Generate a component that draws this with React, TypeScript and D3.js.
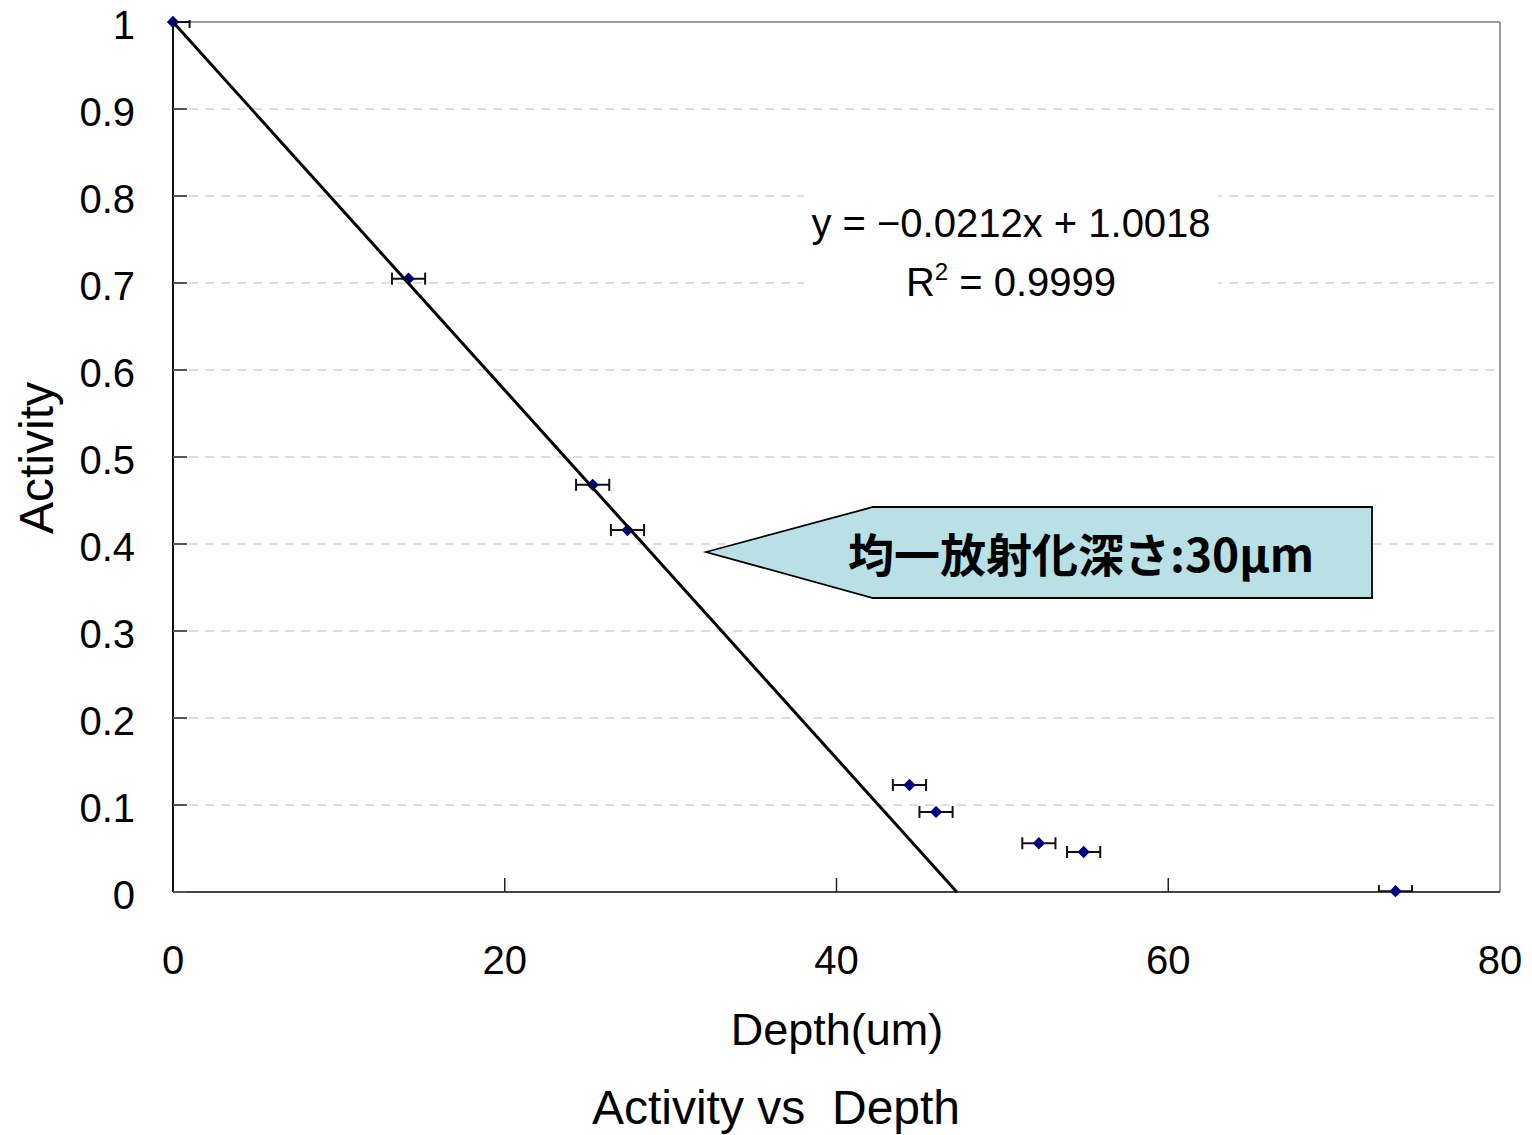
import React from 'react';
import * as d3 from 'd3';

// measured points (depth in um, relative activity)
const depth = [0, 14.2, 25.3, 27.4, 44.4, 46.0, 52.2, 54.9, 73.7];
const activity = [1.0, 0.705, 0.468, 0.416, 0.123, 0.092, 0.056, 0.046, 0.001];
const depthErr = [1, 1, 1, 1, 1, 1, 1, 1, 1];

// linear fit shown on the chart
const slope = -0.0212;
const intercept = 1.0018;

const xTicks = [0, 20, 40, 60, 80];
const yTicks = [0, 0.1, 0.2, 0.3, 0.4, 0.5, 0.6, 0.7, 0.8, 0.9, 1];

const W = 1532;
const H = 1135;
const left = 173, right = 1500, top = 22, bottom = 892;
const font = 'Arial, "Liberation Sans", sans-serif';

function App() {
  const x = d3.scaleLinear().domain([0, 80]).range([left, right]);
  const y = d3.scaleLinear().domain([0, 1]).range([bottom, top]);

  const x0 = -intercept / slope;
  const fitLine = d3.line<number>()
    .x(d => x(d))
    .y(d => y(Math.min(1, slope * d + intercept)));

  const pts = depth.map((d, i) => ({ d, a: activity[i], e: depthErr[i] }));
  // square turned 45deg, like Excel's diamond marker
  const diamond = d3.symbol().type(d3.symbolSquare).size(76)();

  const fmt = (t: number) => String(+t.toFixed(1));

  return (
    <svg width={W} height={H} style={{ position: 'absolute', left: 0, top: 0, background: '#fff' }}>
      <defs>
        <clipPath id="plot">
          <rect x={left} y={top - 2} width={right - left} height={bottom - top + 2} />
        </clipPath>
      </defs>

      {/* grid */}
      {yTicks.filter(t => t > 0 && t < 1).map(t => (
        <line key={'g' + t} x1={left} x2={right} y1={y(t)} y2={y(t)}
          stroke="#d4d4d4" strokeWidth={1.5} strokeDasharray="9,7" />
      ))}

      {/* frame */}
      <line x1={left} x2={right} y1={top} y2={top} stroke="#999" strokeWidth={2} />
      <line x1={right} x2={right} y1={top} y2={bottom} stroke="#999" strokeWidth={2} />
      <line x1={left} x2={right} y1={bottom} y2={bottom} stroke="#444" strokeWidth={2} />
      <line x1={left} x2={left} y1={top} y2={bottom} stroke="#111" strokeWidth={2} />

      {/* ticks */}
      {yTicks.filter(t => t < 1).map(t => (
        <line key={'yt' + t} x1={left} x2={left + 14} y1={y(t)} y2={y(t)} stroke="#555" strokeWidth={2} />
      ))}
      {xTicks.filter(t => t > 0 && t < 80).map(t => (
        <line key={'xt' + t} x1={x(t)} x2={x(t)} y1={bottom} y2={bottom - 14} stroke="#222" strokeWidth={1.5} />
      ))}

      {/* tick labels */}
      {yTicks.map(t => (
        <text key={'yl' + t} x={135} y={y(t) + 17} textAnchor="end" fontFamily={font} fontSize={40} fill="#000">
          {fmt(t)}
        </text>
      ))}
      {xTicks.map(t => (
        <text key={'xl' + t} x={x(t)} y={974} textAnchor="middle" fontFamily={font} fontSize={40} fill="#000">
          {t}
        </text>
      ))}

      {/* axis titles */}
      <text x={837} y={1045} textAnchor="middle" fontFamily={font} fontSize={45} fill="#000">Depth(um)</text>
      <text transform="translate(53,458) rotate(-90)" textAnchor="middle" fontFamily={font} fontSize={48} fill="#000">Activity</text>
      <text x={776} y={1124} textAnchor="middle" fontFamily={font} fontSize={48} fill="#000" style={{ whiteSpace: 'pre' }}>
        {'Activity vs  Depth'}
      </text>

      {/* error bars */}
      <g clipPath="url(#plot)">
        {pts.map((p, i) => (
          <g key={'e' + i} stroke="#111" strokeWidth={2}>
            <line x1={x(p.d - p.e)} x2={x(p.d + p.e)} y1={y(p.a)} y2={y(p.a)} />
            <line x1={x(p.d - p.e)} x2={x(p.d - p.e)} y1={y(p.a) - 6} y2={y(p.a) + 6} />
            <line x1={x(p.d + p.e)} x2={x(p.d + p.e)} y1={y(p.a) - 6} y2={y(p.a) + 6} />
          </g>
        ))}
      </g>

      {/* markers */}
      {pts.map((p, i) => (
        <path key={'m' + i} d={diamond || ''} transform={`translate(${x(p.d)},${y(p.a)}) rotate(45)`} fill="#000080" />
      ))}

      {/* trendline */}
      <path d={fitLine([0, x0]) || ''} fill="none" stroke="#000" strokeWidth={3} />

      {/* fit equation */}
      <rect x={804} y={190} width={414} height={118} fill="#fff" />
      <text x={1011} y={237} textAnchor="middle" fontFamily={font} fontSize={40} fill="#000">
        y = −0.0212x + 1.0018
      </text>
      <text x={1011} y={296} textAnchor="middle" fontFamily={font} fontSize={40} fill="#000">
        R<tspan dy={-16} fontSize={24}>2</tspan><tspan dy={16}> = 0.9999</tspan>
      </text>

      {/* callout */}
      <path d="M706,552 L873,507 L1372,507 L1372,598 L873,598 Z" fill="#b9e1e5" stroke="#000" strokeWidth={1.8} />
      <text x={1081} y={572} textAnchor="middle" fontFamily='"Noto Sans CJK JP", sans-serif' fontWeight="bold" fontSize={46} fill="#000">
        均一放射化深さ:30μm
      </text>
    </svg>
  );
}

export default App;
